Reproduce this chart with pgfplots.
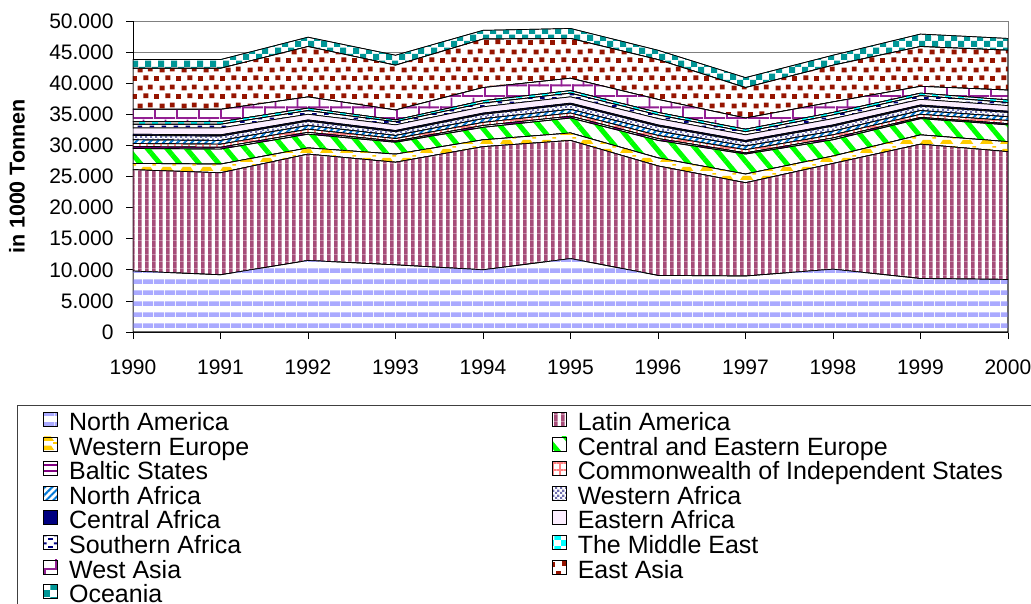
\documentclass[border=0pt]{standalone}
\usepackage{pgfplots}
\pgfplotsset{compat=1.18}
\usepackage{pgfplotstable}
\usepackage{fontspec}
\setmainfont{Liberation Sans}
\usetikzlibrary{patterns,patterns.meta}

\definecolor{cna}{RGB}{170,170,255}
\definecolor{cla}{RGB}{166,77,121}
\definecolor{cwe}{RGB}{255,204,0}
\definecolor{ccee}{RGB}{0,255,0}
\definecolor{cbal}{RGB}{128,0,128}
\definecolor{ccis}{RGB}{255,128,128}
\definecolor{cnaf}{RGB}{0,120,215}
\definecolor{cwaf}{RGB}{112,112,176}
\definecolor{ccaf}{RGB}{0,0,128}
\definecolor{ceaf}{RGB}{252,238,255}
\definecolor{csaf}{RGB}{0,0,128}
\definecolor{cme}{RGB}{0,255,255}
\definecolor{cwas}{RGB}{147,32,147}
\definecolor{ceas}{RGB}{150,20,0}
\definecolor{coce}{RGB}{0,150,150}

\tikzdeclarepattern{
  name=hstripes,
  type=uncolored,
  bottom left={(0pt,0pt)},
  top right={(11pt,11pt)},
  tile size={(11pt,11pt)},
  code={
    \fill (0pt,0pt) rectangle (11pt,5pt);
  }
}
\tikzdeclarepattern{
  name=vstripes,
  type=uncolored,
  bottom left={(0pt,0pt)},
  top right={(7.3pt,7.3pt)},
  tile size={(7.3pt,7.3pt)},
  code={
    \fill (0pt,0pt) rectangle (4pt,7.3pt);
  }
}
\tikzdeclarepattern{
  name=bigchecker,
  type=uncolored,
  bottom left={(0pt,0pt)},
  top right={(12.6pt,12.6pt)},
  tile size={(12.6pt,12.6pt)},
  code={
    \fill (0pt,0pt) rectangle (6.3pt,6.3pt);
    \fill (6.3pt,6.3pt) rectangle (12.6pt,12.6pt);
  }
}
\tikzdeclarepattern{
  name=smallchecker,
  type=uncolored,
  bottom left={(0pt,0pt)},
  top right={(5pt,5pt)},
  tile size={(5pt,5pt)},
  code={
    \fill (0pt,0pt) rectangle (2.5pt,2.5pt);
    \fill (2.5pt,2.5pt) rectangle (5pt,5pt);
  }
}
\tikzdeclarepattern{
  name=confetti,
  type=uncolored,
  bottom left={(0pt,0pt)},
  top right={(22pt,18pt)},
  tile size={(22pt,18pt)},
  code={
    \fill (0pt,0pt) rectangle (5pt,5pt);
    \fill (12pt,1pt) rectangle (17pt,6pt);
    \fill (6pt,9pt) rectangle (11pt,14pt);
    \fill (16.5pt,10pt) rectangle (21.5pt,15pt);
  }
}
\tikzdeclarepattern{
  name=bigbricks,
  type=uncolored,
  bottom left={(0pt,0pt)},
  top right={(22pt,22pt)},
  tile size={(22pt,22pt)},
  code={
    \fill (0pt,0pt) rectangle (22pt,2pt);
    \fill (0pt,11pt) rectangle (22pt,13pt);
    \fill (0pt,0pt) rectangle (2pt,13pt);
    \fill (11pt,11pt) rectangle (13pt,22pt);
  }
}
\tikzdeclarepattern{
  name=dashes,
  type=uncolored,
  bottom left={(0pt,0pt)},
  top right={(12pt,8pt)},
  tile size={(12pt,8pt)},
  code={
    \fill (0pt,0pt) rectangle (5pt,2pt);
    \fill (6pt,4pt) rectangle (11pt,6pt);
  }
}
\tikzdeclarepattern{
  name=blobs,
  type=uncolored,
  bottom left={(0pt,0pt)},
  top right={(20pt,9pt)},
  tile size={(20pt,9pt)},
  code={
    \fill (0pt,0pt) -- (3pt,4.5pt) -- (11pt,4.5pt) -- (14pt,0pt) -- cycle;
    \fill (13pt,6pt) rectangle (17pt,7.5pt);
  }
}

\pgfplotstableread{
year na la we cee bal cis naf waf caf eaf saf me was eas oce
1990 9800 16300 1000 2400 300 500 600 700 200 1000 600 400 2000 6600 1400
1991 9200 16400 1400 2400 300 500 600 700 200 1100 600 400 2000 6600 1400
1992 11500 17100 1000 2200 300 500 600 700 200 900 600 400 1800 8100 1500
1993 10800 16500 1300 1900 200 400 500 600 200 900 500 300 1600 7200 1600
1994 10000 19800 1100 2000 300 500 600 700 200 1000 600 400 2100 7800 1400
1995 11800 19000 1200 2400 300 500 600 800 200 1000 600 400 2000 6400 1600
1996 9100 17600 1300 2800 300 500 700 800 200 1000 600 400 2100 6400 1500
1997 9000 15000 1400 3200 200 500 600 700 200 900 500 400 1800 4900 1600
1998 10100 17000 1200 2600 300 500 600 800 200 1000 600 400 1700 5900 1600
1999 8600 21600 1500 2600 200 500 600 700 200 900 600 400 1100 6400 2000
2000 8450 20550 1600 2700 200 500 600 700 200 900 500 400 1600 6400 1900
}\datatable

\newcommand{\la}[1]{\makebox[483pt][l]{#1}}
\newcommand{\lb}[1]{\makebox[470pt][l]{#1}}

\begin{document}
\begin{tikzpicture}
\path[use as bounding box] (0pt,0pt) rectangle (1031pt,-603pt);
\begin{axis}[
  at={(133pt,-332pt)}, anchor=south west,
  scale only axis, width=875pt, height=311pt,
  xmin=1990, xmax=2000, ymin=0, ymax=50000,
  xtick={1990,...,2000}, ytick={0,5000,...,50000},
  scaled y ticks=false,
  stack plots=y,
  axis line style={draw=gray, line width=0.8pt},
  tick style={black, line width=0.8pt},
  tick align=outside, major tick length=7pt,
  xtick pos=left, ytick pos=left,
  ymajorgrids, grid style={gray, line width=0.8pt},
  /pgf/number format/assume math mode=true,
  ticklabel style={font=\fontsize{21}{24}\selectfont},
  yticklabel style={/pgf/number format/1000 sep={.}, xshift=-9pt},
  xticklabel style={/pgf/number format/1000 sep={}, yshift=-17pt},
  ylabel={in 1000 Tonnen},
  ylabel style={font=\bfseries\fontsize{21.5}{24}\selectfont, at={(axis description cs:-0.1326,0.5)}, anchor=center},
  legend columns=2,
  legend cell align=left,
  legend style={at={(axis description cs:-0.13257,-0.2347)}, anchor=north west,
    draw=black!75, line width=0.8pt, fill=white,
    font=\fontsize{25}{24.5}\selectfont,
    inner xsep=26pt, inner ysep=6.5pt, row sep=0pt,
    nodes={inner sep=0pt, text height=16.4pt, text depth=6.1pt},
    /tikz/every odd column/.append style={column sep=11pt},
    /tikz/every even column/.append style={column sep=0pt}},
  legend image code/.code={\draw[#1, line width=0.7pt] (0pt,-1pt) rectangle (14pt,13pt);},
]
\addplot[preaction={fill=white}, pattern=hstripes, pattern color=cna, draw=black, line width=0.7pt] table[x=year,y=na]{\datatable} \closedcycle;
\addlegendentry{\la{North America}}
\addplot[preaction={fill=white}, pattern=vstripes, pattern color=cla, draw=black, line width=0.7pt] table[x=year,y=la]{\datatable} \closedcycle;
\addlegendentry{\lb{Latin America}}
\addplot[preaction={fill=white}, pattern=blobs, pattern color=cwe, draw=black, line width=0.7pt] table[x=year,y=we]{\datatable} \closedcycle;
\addlegendentry{\la{Western Europe}}
\addplot[preaction={fill=white}, pattern={Lines[angle=-50,distance=15pt,line width=5pt]}, pattern color=ccee, draw=black, line width=0.7pt] table[x=year,y=cee]{\datatable} \closedcycle;
\addlegendentry{\lb{Central and Eastern Europe}}
\addplot[preaction={fill=white}, pattern={Lines[angle=0,distance=6pt,line width=1.5pt]}, pattern color=cbal, draw=black, line width=0.7pt] table[x=year,y=bal]{\datatable} \closedcycle;
\addlegendentry{\la{Baltic States}}
\addplot[preaction={fill=white}, pattern={Hatch[angle=0,distance=7pt,line width=1.5pt]}, pattern color=ccis, draw=black, line width=0.7pt] table[x=year,y=cis]{\datatable} \closedcycle;
\addlegendentry{\lb{Commonwealth of Independent States}}
\addplot[preaction={fill=white}, pattern={Lines[angle=45,distance=5pt,line width=2pt]}, pattern color=cnaf, draw=black, line width=0.7pt] table[x=year,y=naf]{\datatable} \closedcycle;
\addlegendentry{\la{North Africa}}
\addplot[preaction={fill=white}, pattern=smallchecker, pattern color=cwaf, draw=black, line width=0.7pt] table[x=year,y=waf]{\datatable} \closedcycle;
\addlegendentry{\lb{Western Africa}}
\addplot[fill=ccaf, draw=black, line width=0.7pt] table[x=year,y=caf]{\datatable} \closedcycle;
\addlegendentry{\la{Central Africa}}
\addplot[fill=ceaf, draw=black, line width=0.7pt] table[x=year,y=eaf]{\datatable} \closedcycle;
\addlegendentry{\lb{Eastern Africa}}
\addplot[preaction={fill=white}, pattern=dashes, pattern color=csaf, draw=black, line width=0.7pt] table[x=year,y=saf]{\datatable} \closedcycle;
\addlegendentry{\la{Southern Africa}}
\addplot[preaction={fill=white}, pattern=bigchecker, pattern color=cme, draw=black, line width=0.7pt] table[x=year,y=me]{\datatable} \closedcycle;
\addlegendentry{\lb{The Middle East}}
\addplot[preaction={fill=white}, pattern=bigbricks, pattern color=cwas, draw=black, line width=0.7pt] table[x=year,y=was]{\datatable} \closedcycle;
\addlegendentry{\la{West Asia}}
\addplot[preaction={fill=white}, pattern=confetti, pattern color=ceas, draw=black, line width=0.7pt] table[x=year,y=eas]{\datatable} \closedcycle;
\addlegendentry{\lb{East Asia}}
\addplot[preaction={fill=white}, pattern=bigchecker, pattern color=coce, draw=black, line width=0.7pt] table[x=year,y=oce]{\datatable} \closedcycle;
\addlegendentry{\la{Oceania}}
\draw[black, line width=0.8pt] (rel axis cs:0,1) -- (rel axis cs:0,0) -- (rel axis cs:1,0);
\end{axis}
\end{tikzpicture}
\end{document}
